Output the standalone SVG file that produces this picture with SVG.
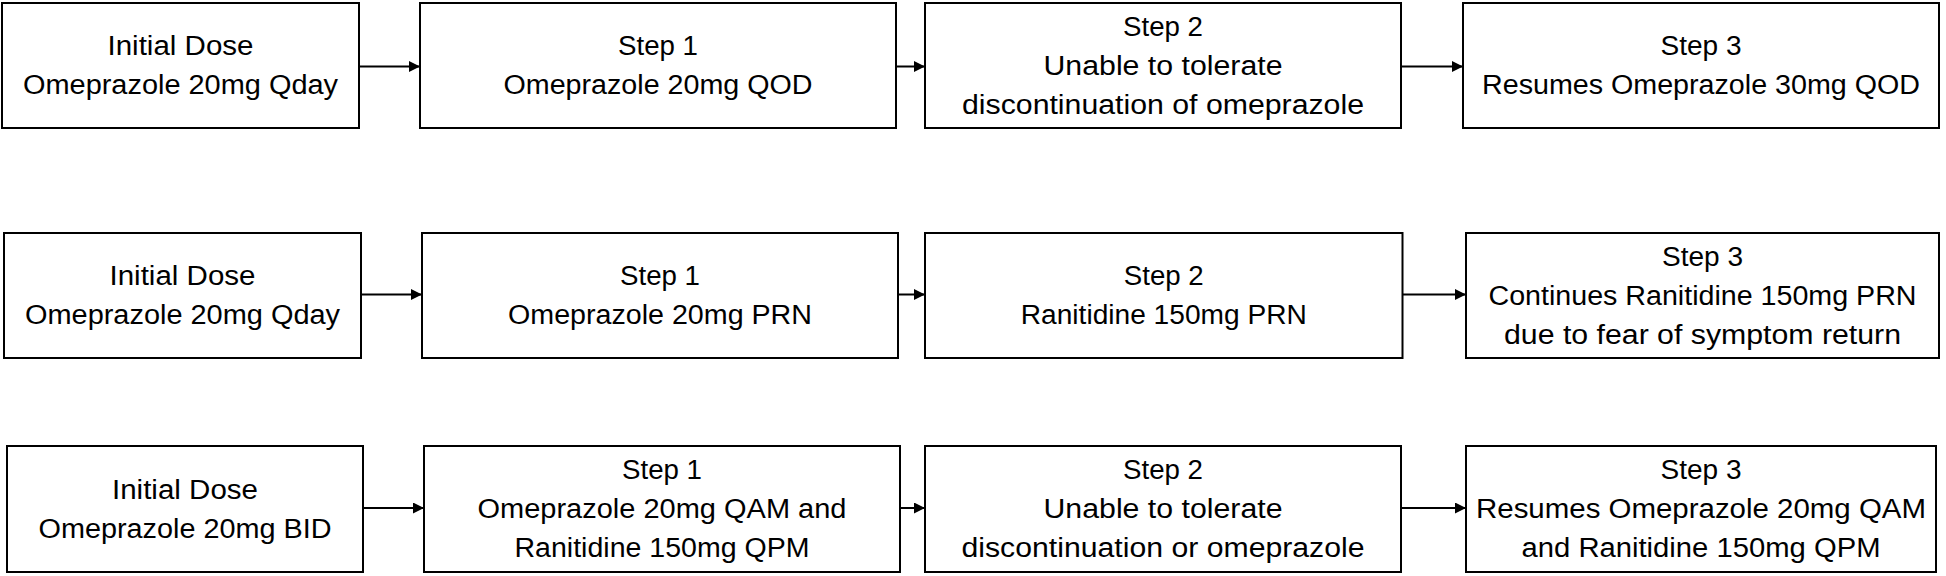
<svg xmlns="http://www.w3.org/2000/svg" width="1946" height="576" viewBox="0 0 1946 576">
<defs>
<marker id="ah" viewBox="0 0 10 10" refX="10" refY="5" markerWidth="11" markerHeight="11" markerUnits="userSpaceOnUse" orient="auto">
<path d="M0,0 L10,5 L0,10 z" fill="#000"/>
</marker>
<style>
.box{fill:#fff;stroke:#000;stroke-width:2}
.t{font-family:"Liberation Sans",Arial,sans-serif;font-size:27px;fill:#000;text-anchor:middle}
.c{stroke:#000;stroke-width:2;fill:none;marker-end:url(#ah)}
</style>
</defs>
<rect width="1946" height="576" fill="#fff"/>
<g id="connectors">
<line class="c" x1="359" y1="66.5" x2="420" y2="66.5"/>
<line class="c" x1="896" y1="66.5" x2="925" y2="66.5"/>
<line class="c" x1="1401" y1="66.5" x2="1463" y2="66.5"/>
<line class="c" x1="361" y1="294.5" x2="422" y2="294.5"/>
<line class="c" x1="898" y1="294.5" x2="925" y2="294.5"/>
<line class="c" x1="1402.5" y1="294.5" x2="1466" y2="294.5"/>
<line class="c" x1="363" y1="508" x2="424" y2="508"/>
<line class="c" x1="900" y1="508" x2="925" y2="508"/>
<line class="c" x1="1401" y1="508" x2="1466" y2="508"/>
</g>
<g id="r1n1"><rect class="box" x="2" y="3" width="357" height="125"/>
<text class="t" x="180.5" y="55" textLength="146" lengthAdjust="spacingAndGlyphs">Initial Dose</text>
<text class="t" x="180.5" y="94" textLength="315" lengthAdjust="spacingAndGlyphs">Omeprazole 20mg Qday</text></g>
<g id="r1n2"><rect class="box" x="420" y="3" width="476" height="125"/>
<text class="t" x="658" y="55" textLength="80" lengthAdjust="spacingAndGlyphs">Step 1</text>
<text class="t" x="658" y="94" textLength="309" lengthAdjust="spacingAndGlyphs">Omeprazole 20mg QOD</text></g>
<g id="r1n3"><rect class="box" x="925" y="3" width="476" height="125"/>
<text class="t" x="1163" y="35.5" textLength="80" lengthAdjust="spacingAndGlyphs">Step 2</text>
<text class="t" x="1163" y="74.5" textLength="239" lengthAdjust="spacingAndGlyphs">Unable to tolerate</text>
<text class="t" x="1163" y="113.5" textLength="402" lengthAdjust="spacingAndGlyphs">discontinuation of omeprazole</text></g>
<g id="r1n4"><rect class="box" x="1463" y="3" width="476" height="125"/>
<text class="t" x="1701" y="55" textLength="81" lengthAdjust="spacingAndGlyphs">Step 3</text>
<text class="t" x="1701" y="94" textLength="438" lengthAdjust="spacingAndGlyphs">Resumes Omeprazole 30mg QOD</text></g>
<g id="r2n1"><rect class="box" x="4" y="233" width="357" height="125"/>
<text class="t" x="182.5" y="285" textLength="146" lengthAdjust="spacingAndGlyphs">Initial Dose</text>
<text class="t" x="182.5" y="324" textLength="315" lengthAdjust="spacingAndGlyphs">Omeprazole 20mg Qday</text></g>
<g id="r2n2"><rect class="box" x="422" y="233" width="476" height="125"/>
<text class="t" x="660" y="285" textLength="80" lengthAdjust="spacingAndGlyphs">Step 1</text>
<text class="t" x="660" y="324" textLength="304" lengthAdjust="spacingAndGlyphs">Omeprazole 20mg PRN</text></g>
<g id="r2n3"><rect class="box" x="925" y="233" width="477.5" height="125"/>
<text class="t" x="1163.75" y="285" textLength="80" lengthAdjust="spacingAndGlyphs">Step 2</text>
<text class="t" x="1163.75" y="324" textLength="286" lengthAdjust="spacingAndGlyphs">Ranitidine 150mg PRN</text></g>
<g id="r2n4"><rect class="box" x="1466" y="233" width="473" height="125"/>
<text class="t" x="1702.5" y="265.5" textLength="81" lengthAdjust="spacingAndGlyphs">Step 3</text>
<text class="t" x="1702.5" y="304.5" textLength="428" lengthAdjust="spacingAndGlyphs">Continues Ranitidine 150mg PRN</text>
<text class="t" x="1702.5" y="343.5" textLength="397" lengthAdjust="spacingAndGlyphs">due to fear of symptom return</text></g>
<g id="r3n1"><rect class="box" x="7" y="446" width="356" height="126"/>
<text class="t" x="185" y="498.5" textLength="146" lengthAdjust="spacingAndGlyphs">Initial Dose</text>
<text class="t" x="185" y="537.5" textLength="293" lengthAdjust="spacingAndGlyphs">Omeprazole 20mg BID</text></g>
<g id="r3n2"><rect class="box" x="424" y="446" width="476" height="126"/>
<text class="t" x="662" y="479" textLength="80" lengthAdjust="spacingAndGlyphs">Step 1</text>
<text class="t" x="662" y="518" textLength="369" lengthAdjust="spacingAndGlyphs">Omeprazole 20mg QAM and</text>
<text class="t" x="662" y="557" textLength="295" lengthAdjust="spacingAndGlyphs">Ranitidine 150mg QPM</text></g>
<g id="r3n3"><rect class="box" x="925" y="446" width="476" height="126"/>
<text class="t" x="1163" y="479" textLength="80" lengthAdjust="spacingAndGlyphs">Step 2</text>
<text class="t" x="1163" y="518" textLength="239" lengthAdjust="spacingAndGlyphs">Unable to tolerate</text>
<text class="t" x="1163" y="557" textLength="403" lengthAdjust="spacingAndGlyphs">discontinuation or omeprazole</text></g>
<g id="r3n4"><rect class="box" x="1466" y="446" width="470" height="126"/>
<text class="t" x="1701" y="479" textLength="81" lengthAdjust="spacingAndGlyphs">Step 3</text>
<text class="t" x="1701" y="518" textLength="450" lengthAdjust="spacingAndGlyphs">Resumes Omeprazole 20mg QAM</text>
<text class="t" x="1701" y="557" textLength="359" lengthAdjust="spacingAndGlyphs">and Ranitidine 150mg QPM</text></g>
</svg>
